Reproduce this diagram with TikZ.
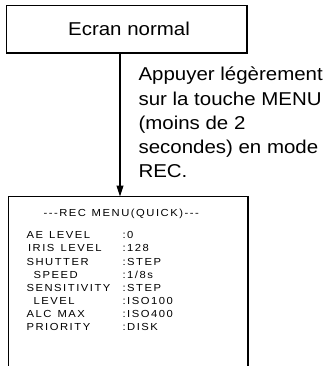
\documentclass[tikz,border=0pt]{standalone}
\usepackage{fontspec}
\setmainfont{Liberation Sans}
\newfontfamily\bigf[FakeStretch=1.1]{Liberation Sans}
\newfontfamily\menuf[FakeStretch=1.1,LetterSpace=15,Ligatures=NoCommon]{Liberation Sans}
\usetikzlibrary{arrows.meta}
\begin{document}
\begin{tikzpicture}[x=1bp,y=-1bp,line width=1.1bp,
  topbox/.style={draw,inner sep=0,minimum width=240.5bp,minimum height=47.5bp,
    font=\bigf\fontsize{18.6bp}{22bp}\selectfont},
  note/.style={anchor=base west,inner sep=0,font=\bigf\fontsize{18.6bp}{24bp}\selectfont},
  mlabel/.style={anchor=base west,inner sep=0,font=\menuf\fontsize{10.2bp}{12bp}\selectfont},
  arr/.style={-{Triangle[width=7bp,length=11bp]}}]
\useasboundingbox (0,0) rectangle (323,366);
% top box
\node[topbox] (ecran) at (126.75,29.25) {\hspace*{4.5bp}Ecran normal};
% menu screen (open at bottom)
\coordinate (menutop) at (120,196.5);
\draw (8.5,366) -- (8.5,196.5) -- (248,196.5) -- (248,366);
% arrow
\draw[arr] (ecran.south -| menutop) -- (menutop);
% instruction
\node[note] (n1) at (138,80.7) {Appuyer légèrement};
\node[note] (n2) at (138,105.2) {sur la touche MENU};
\node[note] (n3) at (138,129.2) {(moins de 2};
\node[note] (n4) at (138,153.2) {secondes) en mode};
\node[note] (n5) at (138,177.2) {REC.};
% menu text
\node[mlabel] (title) at (43,216.5) {-{}-{}-REC\hspace{1bp} MENU(QUICK)-{}-{}-};
\node[mlabel] (l1) at (26,238.8) {AE\hspace{1.5bp} LEVEL};
\node[mlabel] (l2) at (27.5,251.9) {IRIS\hspace{1.5bp} LEVEL};
\node[mlabel] (l3) at (26,265.0) {SHUTTER};
\node[mlabel] (l4) at (33,278.2) {SPEED};
\node[mlabel] (l5) at (26,291.3) {SENSITIVITY};
\node[mlabel] (l6) at (33,304.4) {LEVEL};
\node[mlabel] (l7) at (26,317.6) {ALC\hspace{1.5bp} MAX};
\node[mlabel] (l8) at (26,330.7) {PRIORITY};
\node[mlabel] (v1) at (122,238.8) {:0};
\node[mlabel] (v2) at (122,251.9) {:128};
\node[mlabel] (v3) at (122,265.0) {:STEP};
\node[mlabel] (v4) at (122,278.2) {:1/8s};
\node[mlabel] (v5) at (122,291.3) {:STEP};
\node[mlabel] (v6) at (122,304.4) {:ISO100};
\node[mlabel] (v7) at (122,317.6) {:ISO400};
\node[mlabel] (v8) at (122,330.7) {:DISK};
\end{tikzpicture}
\end{document}
